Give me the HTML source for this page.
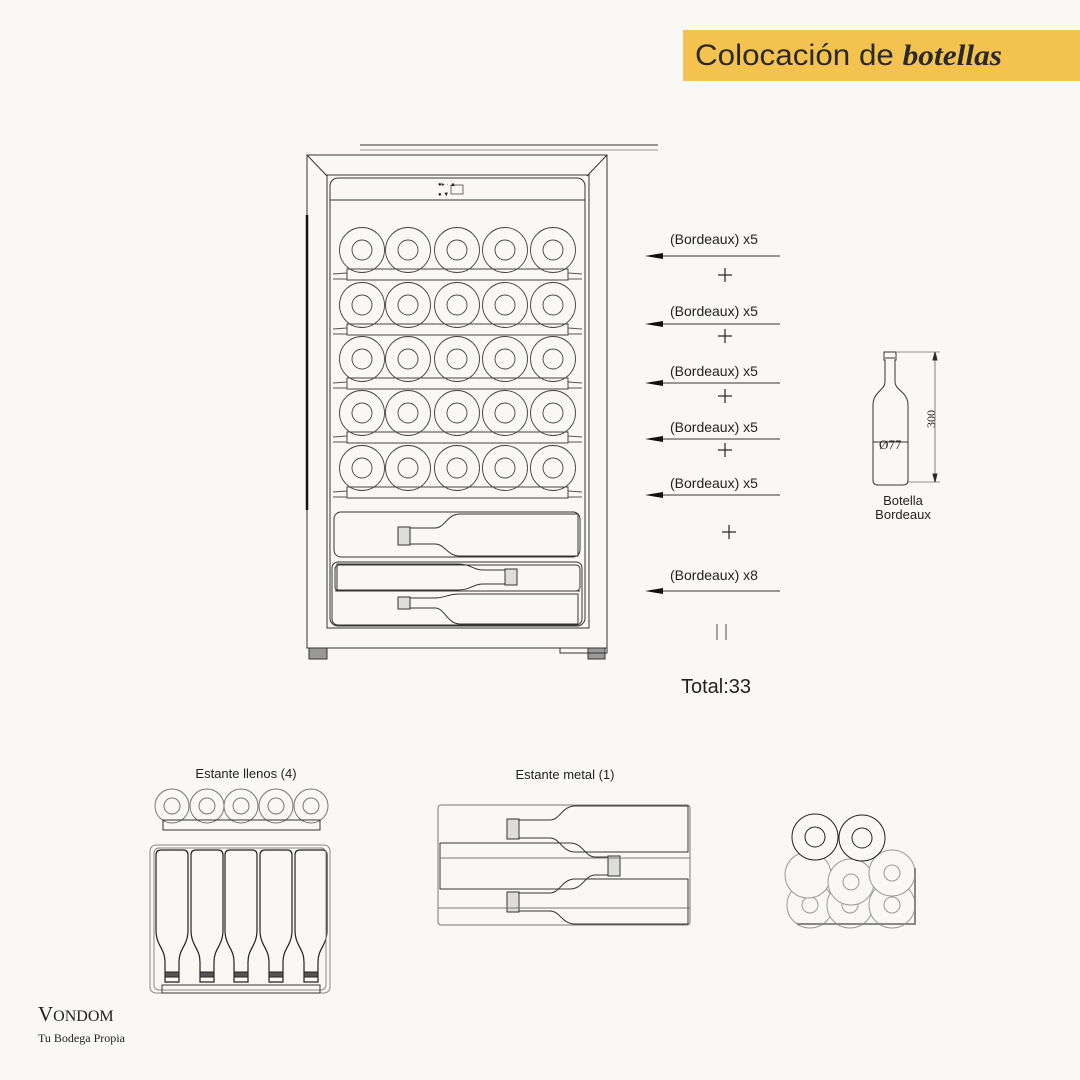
<!DOCTYPE html>
<html><head><meta charset="utf-8"><style>
html,body{margin:0;padding:0;background:#f9f8f4;}
body{width:1080px;height:1080px;position:relative;overflow:hidden;font-family:"Liberation Sans",sans-serif;}
svg{position:absolute;left:0;top:0}
</style></head><body>
<svg id="s" width="1080" height="1080" viewBox="0 0 1080 1080" fill="none" stroke="#333" stroke-width="1">
<rect x="683" y="30" width="397" height="51" fill="#f4c24f" stroke="none"/>
<text x="695" y="65" font-family="Liberation Sans, sans-serif" font-size="30" fill="#2a2a2a" stroke="none" textLength="307" lengthAdjust="spacingAndGlyphs">Colocación de <tspan font-family="Liberation Serif, serif" font-weight="bold" font-style="italic">botellas</tspan></text>
<!-- fridge -->
<line x1="360" y1="145" x2="658" y2="145"/>
<line x1="360" y1="150" x2="658" y2="150" stroke-width="0.5"/>
<rect x="307" y="155" width="300" height="493"/>
<line x1="307" y1="155" x2="327" y2="176"/><line x1="607" y1="155" x2="587" y2="176"/>
<rect x="327" y="175" width="262" height="453"/>
<line x1="307" y1="215" x2="307" y2="510" stroke-width="2.5" stroke="#111"/>
<rect x="330" y="178" width="255" height="448" rx="8"/>
<line x1="330" y1="200" x2="585" y2="200"/>
<rect x="451" y="185" width="12" height="9" stroke-width="0.7"/>
<text x="438" y="186" font-size="6" fill="#222" stroke="none">●▸  ·  ▲</text>
<text x="438" y="196" font-size="6" fill="#222" stroke="none">●         ▼</text>
<rect x="309" y="648" width="18" height="11" fill="#999"/><rect x="588" y="648" width="17" height="11" fill="#999"/>
<rect x="560" y="648" width="47" height="5"/>
<g id="rows"></g>
<rect x="334" y="512" width="246" height="45" rx="7"/>
<rect x="332" y="562" width="250" height="63" rx="6"/>
<rect x="335" y="565" width="245" height="26" rx="4"/>
<line x1="335" y1="591" x2="580" y2="591"/>
<g id="hb"></g>
<!-- labels -->
<g font-size="14" fill="#222" stroke="none">
<text x="670" y="244">(Bordeaux) x5</text>
<text x="670" y="316">(Bordeaux) x5</text>
<text x="670" y="376">(Bordeaux) x5</text>
<text x="670" y="432">(Bordeaux) x5</text>
<text x="670" y="488">(Bordeaux) x5</text>
<text x="670" y="580">(Bordeaux) x8</text>
<text x="681" y="693" font-size="20">Total:33</text>
<text x="903" y="505" font-size="13" text-anchor="middle">Botella</text>
<text x="903" y="519" font-size="13" text-anchor="middle">Bordeaux</text>
<text x="246" y="778" font-size="13" text-anchor="middle">Estante llenos (4)</text>
<text x="565" y="779" font-size="13" text-anchor="middle">Estante metal (1)</text>
<text x="38" y="1021" font-family="Liberation Serif, serif" font-size="21">V<tspan font-size="16">ONDOM</tspan></text>
<text x="38" y="1042" font-family="Liberation Serif, serif" font-size="12">Tu Bodega Propia</text>
</g>
<g id="arr"></g>
<g stroke="#222" stroke-width="1.2">
<line x1="718" y1="275" x2="732" y2="275"/><line x1="725" y1="268" x2="725" y2="282"/>
<line x1="718" y1="336" x2="732" y2="336"/><line x1="725" y1="329" x2="725" y2="343"/>
<line x1="718" y1="396" x2="732" y2="396"/><line x1="725" y1="389" x2="725" y2="403"/>
<line x1="718" y1="450" x2="732" y2="450"/><line x1="725" y1="443" x2="725" y2="457"/>
<line x1="722" y1="532" x2="736" y2="532"/><line x1="729" y1="525" x2="729" y2="539"/>
<line x1="717" y1="624" x2="717" y2="640" stroke-width="0.8"/><line x1="726" y1="624" x2="726" y2="640" stroke-width="0.8"/>
</g>
<!-- bottle -->
<path d="M884,352 L896,352 L896,360 L895,360 L895,382 C895,390 908,392 908,405 L908,480 Q908,485 903,485 L878,485 Q873,485 873,480 L873,405 C873,392 885,390 885,382 L885,360 L884,360 Z"/>
<line x1="885" y1="358" x2="895" y2="358"/><line x1="873" y1="442" x2="908" y2="442"/>
<text x="879" y="449" font-family="Liberation Serif, serif" font-size="13" fill="#222" stroke="none">Ø77</text>
<line x1="897" y1="352" x2="940" y2="352" stroke-width="0.6"/><line x1="908" y1="482" x2="940" y2="482" stroke-width="0.6"/>
<line x1="935" y1="352" x2="935" y2="482" stroke-width="0.6"/>
<path d="M935,352 l-2,8 h4z M935,482 l-2,-8 h4z" fill="#222"/>
<text transform="translate(935,428) rotate(-90)" font-family="Liberation Serif, serif" font-size="12" fill="#222" stroke="none">300</text>
<!-- bottom left -->
<g id="bl"></g>
<rect x="163" y="820" width="157" height="10"/>
<rect x="150" y="845" width="180" height="148" rx="6" stroke="#888"/>
<rect x="154" y="848" width="172" height="142" rx="5" stroke="#888"/>
<rect x="162" y="985" width="158" height="8"/>
<!-- metal shelf -->
<rect x="438" y="805" width="252" height="120" rx="3" stroke="#777"/>
<line x1="438" y1="908" x2="690" y2="908" stroke="#777"/><line x1="440" y1="858" x2="690" y2="858" stroke="#777"/>
<!-- pile -->
<g id="pile"></g>
<path d="M797,924 L915,924 L915,868" stroke-width="2" stroke="#888"/>
</svg>
<script>
var NS="http://www.w3.org/2000/svg";
function el(p,t,a){var e=document.createElementNS(NS,t);for(var k in a)e.setAttribute(k,a[k]);document.getElementById(p).appendChild(e);return e;}
var rows=[250,305,359,413,468],cx=[362,408,457,505,553];
rows.forEach(function(y){
 cx.forEach(function(x){el("rows","circle",{cx:x,cy:y,r:22.5,stroke:"#444","stroke-width":0.9});el("rows","circle",{cx:x,cy:y,r:10,stroke:"#444","stroke-width":0.9});});
 el("rows","rect",{x:347,y:y+19,width:221,height:11,stroke:"#444"});
 el("rows","path",{d:"M333,"+(y+24)+" L347,"+(y+23)+" M568,"+(y+23)+" L582,"+(y+24)+" M333,"+(y+29)+" L347,"+(y+29)+" M568,"+(y+29)+" L582,"+(y+29),stroke:"#555"});
});
function hb(g,N,S,E,c,h,T,B,dir){
 var d="M"+N+","+(c-h)+" L"+(S-20*dir)+","+(c-h)+" C"+(S-10*dir)+","+(c-h)+" "+(S-8*dir)+","+T+" "+(S+5*dir)+","+T+" L"+E+","+T+" L"+E+","+B+" L"+(S+5*dir)+","+B+" C"+(S-8*dir)+","+B+" "+(S-10*dir)+","+(c+h)+" "+(S-20*dir)+","+(c+h)+" L"+N+","+(c+h)+" Z";
 el(g,"path",{d:d,stroke:"#333"});
 el(g,"rect",{x:dir==1?N:N-12,y:c-h-1,width:12,height:2*h+2,fill:"#ddd",stroke:"#333"});
}
hb("hb",398,455,578,536,8,514,556,1);
hb("hb",517,463,337,577,7,564,590,-1);
hb("hb",398,455,578,603,5,594,624,1);
hb("hb",507,570,688,829,9,806,852,1);
hb("hb",620,575,440,866,9,843,889,-1);
hb("hb",507,570,688,902,9,879,924,1);
[172,207,241,276,311].forEach(function(x){el("bl","circle",{cx:x,cy:806,r:17,stroke:"#777"});el("bl","circle",{cx:x,cy:806,r:8,stroke:"#777"});
 el("bl","path",{d:"M"+(x-16)+",855 Q"+(x-16)+",850 "+(x-11)+",850 L"+(x+11)+",850 Q"+(x+16)+",850 "+(x+16)+",855 L"+(x+16)+",930 C"+(x+16)+",946 "+(x+7)+",948 "+(x+7)+",962 L"+(x+7)+",982 L"+(x-7)+",982 L"+(x-7)+",962 C"+(x-7)+",948 "+(x-16)+",946 "+(x-16)+",930 Z",stroke:"#222","stroke-width":1.2});
 el("bl","rect",{x:x-7,y:972,width:14,height:5,fill:"#555",stroke:"#222"});
});
[[810,905,23,8,"#999"],[850,905,23,8,"#999"],[892,905,23,8,"#999"],[808,875,23,0,"#999"],[851,882,23,8,"#999"],[892,873,23,8,"#999"],[815,837,23,10,"#222"],[862,838,23,10,"#222"]].forEach(function(c){
 el("pile","circle",{cx:c[0],cy:c[1],r:c[2],stroke:c[4],fill:"#f9f8f4"});if(c[3])el("pile","circle",{cx:c[0],cy:c[1],r:c[3],stroke:c[4]});});
[[256,244],[324,316],[383,376],[439,432],[495,488],[591,580]].forEach(function(a){
 el("arr","line",{x1:648,y1:a[0],x2:780,y2:a[0],stroke:"#333"});
 el("arr","path",{d:"M645,"+a[0]+" l18,-3 v6z",fill:"#111",stroke:"none"});});
</script>
</body></html>
